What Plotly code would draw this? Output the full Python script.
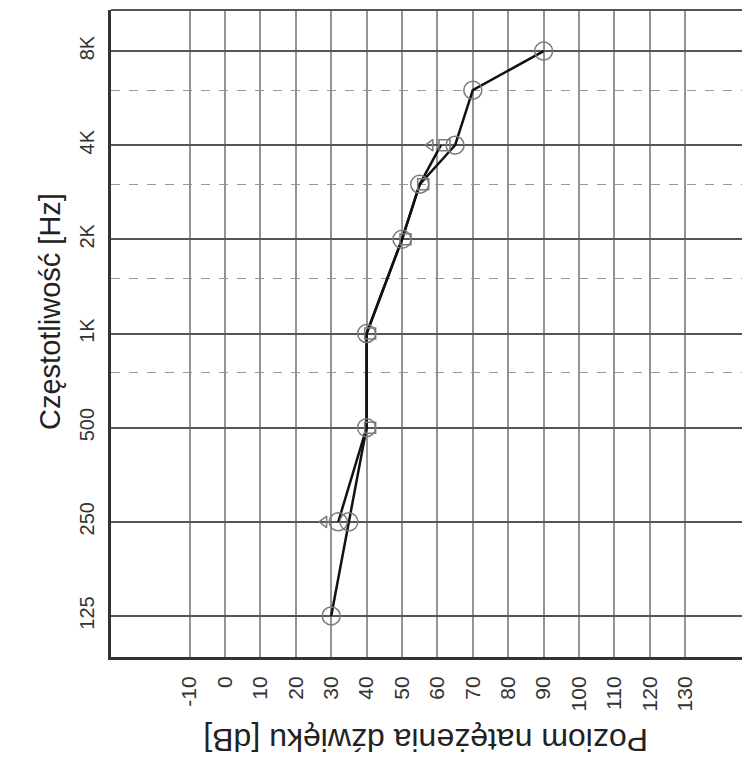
import plotly.graph_objects as go

# Frequencies (Hz) and tick labels
freq_ticks = [125, 250, 500, 1000, 2000, 4000, 8000]
freq_labels = ["125", "250", "500", "1K", "2K", "4K", "8K"]
freq_mid = [750, 1500, 3000, 6000]
db_ticks = [-10, 0, 10, 20, 30, 40, 50, 60, 70, 80, 90, 100, 110, 120, 130]

# Series A: air conduction (circles)
air_freq = [125, 250, 500, 1000, 2000, 3000, 4000, 6000, 8000]
air_db = [30, 35, 40, 40, 50, 55, 65, 70, 90]

# Series B: second curve (line)
b_freq = [250, 500, 1000, 2000, 3000, 4000]
b_db = [32, 40, 40, 50, 55, 61]

# Bracket/square markers
sq_freq = [500, 1000, 2000, 3000, 4000]
sq_db = [41, 41, 51, 56, 62]

# "<" markers
lt_freq = [250, 4000]
lt_db = [28, 58]

fig = go.Figure()

fig.add_trace(go.Scatter(
    x=b_db, y=b_freq, mode="lines",
    line=dict(color="#111111", width=2.5), showlegend=False))
fig.add_trace(go.Scatter(
    x=air_db, y=air_freq, mode="lines+markers",
    line=dict(color="#111111", width=2.5),
    marker=dict(symbol="circle-open", size=18, color="#7a7a7a",
                line=dict(width=1.5, color="#7a7a7a")),
    showlegend=False))
fig.add_trace(go.Scatter(
    x=[b_db[0]], y=[b_freq[0]], mode="markers",
    marker=dict(symbol="circle-open", size=18, color="#7a7a7a",
                line=dict(width=1.5, color="#7a7a7a")),
    showlegend=False))
fig.add_trace(go.Scatter(
    x=sq_db, y=sq_freq, mode="markers",
    marker=dict(symbol="square-open", size=11, color="#7a7a7a",
                line=dict(width=1.5, color="#7a7a7a")),
    showlegend=False))
fig.add_trace(go.Scatter(
    x=lt_db, y=lt_freq, mode="markers",
    marker=dict(symbol="triangle-left-open", size=10, color="#7a7a7a",
                line=dict(width=1.5, color="#7a7a7a")),
    showlegend=False))

fig.update_xaxes(
    range=[-32.2, 148.3],
    tickvals=db_ticks, ticktext=[str(v) for v in db_ticks],
    tickangle=-90, tickfont=dict(family="Liberation Sans, Arial", size=21, color="#333333"),
    showgrid=True, gridcolor="#939393", gridwidth=1.6,
    showline=True, linecolor="#333333", linewidth=3,
    ticks="", zeroline=False, ticklabelstandoff=8,
)
fig.update_yaxes(
    type="log",
    range=[1.9657, 4.0344],
    tickvals=freq_ticks, ticktext=freq_labels,
    tickangle=-90, tickfont=dict(family="Liberation Sans, Arial", size=20, color="#333333"),
    showgrid=True, gridcolor="#555555", gridwidth=1.8,
    showline=True, linecolor="#333333", linewidth=3,
    ticks="", zeroline=False, ticklabelstandoff=6,
    minor=dict(tickvals=freq_mid, showgrid=True, gridcolor="#999999",
               griddash="dash", gridwidth=1, ticks=""),
)

fig.add_shape(type="line", xref="paper", yref="paper", x0=0, x1=1, y0=1, y1=1,
              line=dict(color="#555555", width=2))

fig.add_annotation(text="Poziom natężenia dźwięku [dB]", xref="paper", yref="paper",
                   x=(426 - 111) / 639, y=-(740 - 657) / 647, textangle=180,
                   showarrow=False, xanchor="center", yanchor="middle",
                   font=dict(family="Liberation Sans, Arial", size=32, color="#222222"))
fig.add_annotation(text="Częstotliwość [Hz]", xref="paper", yref="paper",
                   x=-(111 - 50) / 639, y=(657 - 312) / 647, textangle=-90,
                   showarrow=False, xanchor="center", yanchor="middle",
                   font=dict(family="Liberation Sans, Arial", size=29, color="#222222"))

fig.update_layout(
    width=742, height=754,
    margin=dict(l=103, r=0, t=2, b=105),
    paper_bgcolor="white", plot_bgcolor="white",
    showlegend=False,
)

fig.write_html("out.html")
